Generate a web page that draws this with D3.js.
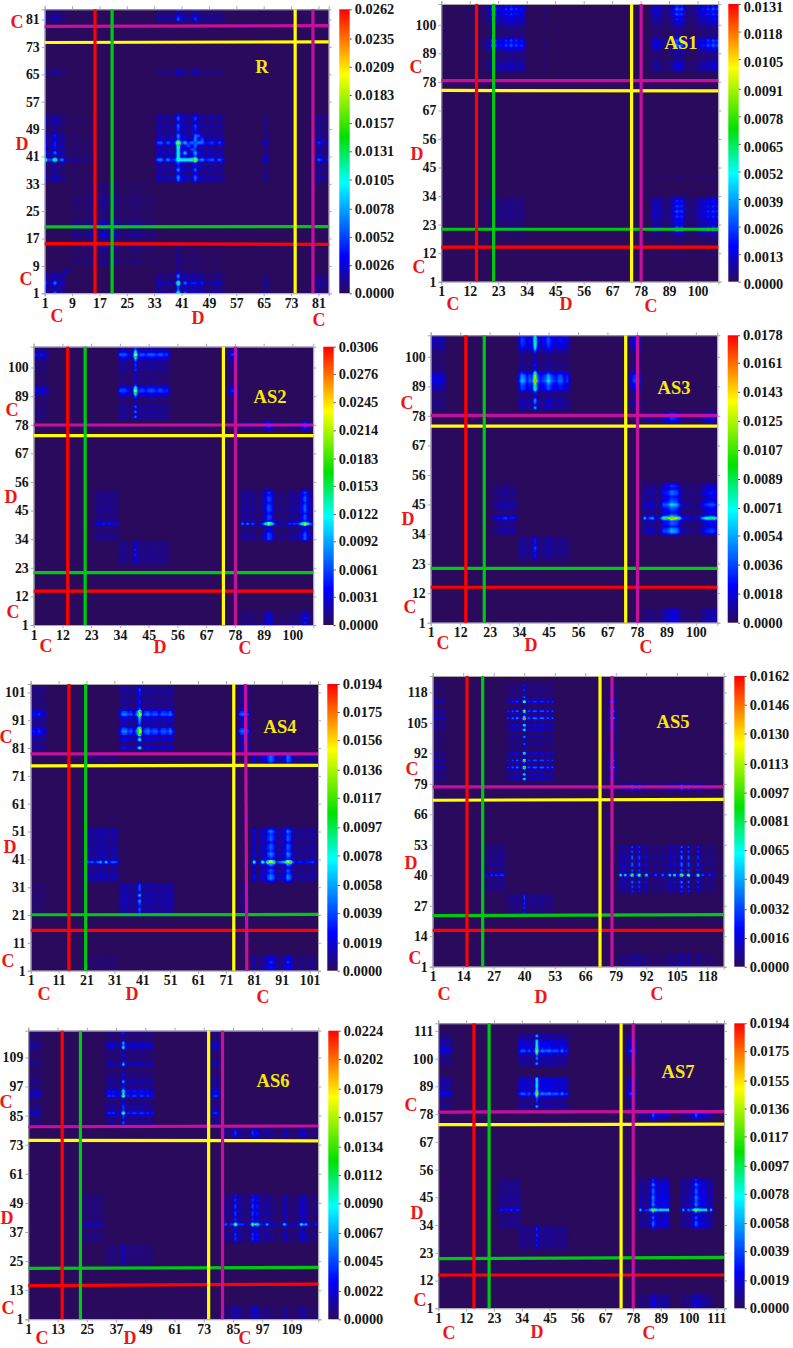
<!DOCTYPE html>
<html>
<head>
<meta charset="utf-8">
<script src="https://cdnjs.cloudflare.com/ajax/libs/d3/7.8.5/d3.min.js"></script>
<style>
body { margin: 0; background: #fff; }
svg { display: block; }
.axis text { font-family: "Liberation Serif", serif; font-weight: bold; font-size: 13.8px; fill: #151515; }
.axis path, .axis line { stroke: #a8a8a8; }
.bar-axis text { font-size: 14.4px; }
.bar-axis line { stroke: #444; }
.bar-axis path { display: none; }
.letter { font-family: "Liberation Serif", serif; font-weight: bold; font-size: 18px; fill: #f01414; text-anchor: middle; dominant-baseline: central; }
.title { font-family: "Liberation Serif", serif; font-weight: bold; font-size: 18.5px; fill: #f5e80a; text-anchor: middle; dominant-baseline: central; }
</style>
</head>
<body>
<div id="chart"></div>
<script>
// tick labels
var ticksR = [1, 9, 17, 25, 33, 41, 49, 57, 65, 73, 81];
var ticks11 = [1, 12, 23, 34, 45, 56, 67, 78, 89, 100];
var ticks11b = [1, 12, 23, 34, 45, 56, 67, 78, 89, 100, 111];
var ticks10 = [1, 11, 21, 31, 41, 51, 61, 71, 81, 91, 101];
var ticks13 = [1, 14, 27, 40, 53, 66, 79, 92, 105, 118];
var ticks12 = [1, 13, 25, 37, 49, 61, 73, 85, 97, 109];

// colour bar labels
var barR = ["0.0262", "0.0235", "0.0209", "0.0183", "0.0157", "0.0131", "0.0105", "0.0078", "0.0052", "0.0026", "0.0000"];
var bar1 = ["0.0131", "0.0118", "0.0105", "0.0091", "0.0078", "0.0065", "0.0052", "0.0039", "0.0026", "0.0013", "0.0000"];
var bar2 = ["0.0306", "0.0276", "0.0245", "0.0214", "0.0183", "0.0153", "0.0122", "0.0092", "0.0061", "0.0031", "0.0000"];
var bar3 = ["0.0178", "0.0161", "0.0143", "0.0125", "0.0107", "0.0089", "0.0071", "0.0054", "0.0036", "0.0018", "0.0000"];
var bar4 = ["0.0194", "0.0175", "0.0156", "0.0136", "0.0117", "0.0097", "0.0078", "0.0058", "0.0039", "0.0019", "0.0000"];
var bar5 = ["0.0162", "0.0146", "0.0130", "0.0113", "0.0097", "0.0081", "0.0065", "0.0049", "0.0032", "0.0016", "0.0000"];
var bar6 = ["0.0224", "0.0202", "0.0179", "0.0157", "0.0134", "0.0112", "0.0090", "0.0067", "0.0045", "0.0022", "0.0000"];
var bar7 = ["0.0194", "0.0175", "0.0155", "0.0136", "0.0117", "0.0097", "0.0078", "0.0058", "0.0039", "0.0019", "0.0000"];

// band strengths read from each map, as a share of that map's top value
// R
var rA = [.75, .3, .3, .8, .2, .4, .15];                   // residues 1-7
var rM = [.1, .1, .15, .1, .1, .08, .08, .12];             // 8-15
var rN = [.05, .3, .1, .15, .15, .25, .3, .2, .2, .55, .3, .3, .5, .3, .15, .15, .15, .2, .2, .25, .2, .15, .1, .15, .12]; // 9-33
var rD = [.3, .35, .15, .35, .2, .25, 1, .3, .45, .25, .3, .85, .25, .35, .2, .25, .3, .15, .3, .2]; // 34-53
var rL = [.2, .2, .1, .15, .15, .1, 1, .1, .45, .2, .3, .3, .2, .3, .1, .1, .15, .15, .2, .1]; // 34-53, seen from 1-7
var rF = [.25, .35];                                       // 65-66
var rT = [.5, .35, .1, .45];                               // 81-84
var rSpots = [[40, 40, .45], [40, 41, .4], [40, 42, .42], [40, 43, .4], [41, 40, .42], [42, 40, .42], [43, 40, .42], [44, 40, .5],
  [42, 42, .36], [45, 45, .2], [43, 44, .22], [44, 45, .25], [45, 46, .28], [46, 47, .22], [6, 6, .1], [7, 7, .1], [8, 8, .08]];

// AS1
var a1N = [.02, .02, .03, .03, .03, .04, .04, .1, .1, .15, .35, .9, .5, .25, .4, .3, .5, .35, .55, .35, .5, .3, .45, .3, .05]; // 10-34
var a1D = [.12];                                           // 41
var a1C = [.15, .25, .35, .2, .25, .1, .12, .15, .25, .4, .6, .45, .55, .2, .15, .08, .12, .15, .25, .25, .4, .3, .5, .35, .55, .4, .55]; // 82-108

// AS2
var a2A = [.25, .3, .15, .3, .15, .2];                     // 1-6
var a2N = [.1, .25, .3, .25, .35, .2, .35, .2, .3, .25];   // 24-33
var a2D = [.3, .3, .3, .22, .15, .22, 1, .22, .3, .3, .22, .3, .32, .3, .22, .3, .3, .22, .28, .12]; // 34-53
var a2K = [.2, .35, .35, .3];                              // 76-79
var a2C = [.35, .1, .35, .1, .3, .1, .1, .15, .3, .55, .85, .7, .3, .1, .1, .2, .1, .1, .25, .2, .25, .2, .35, .6, .95, .5, .3, .2]; // 81-108

// AS3
var a3A = [.2, .3, .2, .3, .2, .25];
var a3N = [.1, .2, .3, .25, .3, .4, .25, .3, .3, .2];
var a3D = [.2, .4, .35, .2, .3, .25, 1, .3, .2, .25, .3, .45, .3, .25, .2, .3, .3, .15, .25, .1];
var a3K = [.25, .35, .4, .3];
var a3C = [.4, .15, .3, .35, .12, .15, .25, .6, .6, .7, .95, .85, .8, .5, .2, .15, .2, .15, .1, .15, .1, .25, .4, .5, .55, .6, .55, .35];

// AS4 (D band starts at 33, N band at 21)
var a4A = [.2, .3, .25, .35, .2, .25];
var a4N = [.3, .25, .3, .2, .3, .4, .15, .45, .15, .3, .3, .25];
var a4D = [.2, .35, .35, .25, .3, .15, .35, 1, .2, .3, .35, .25, .3, .3, .2, .3, .3, .25, .35, .2];
var a4K = [.35, .4, .4, .3];
var a4C = [.55, .1, .15, .5, .25, .7, .9, .7, .2, .3, .35, .4, .9, .7, .25, .15, .2, .2, .15, .2, .2, .25, .15, .1]; // 81-104

// AS5 (D band starts at 33, N band at 23)
var a5A = [.15, .2, .15, .2, .15, .2];
var a5N = [.1, .25, .1, .3, .2, .3, .2, .3, .3, .1];
var a5D = [.25, .1, .3, .15, .35, .1, .15, 1, .15, .3, .1, .3, .3, .1, .3, .3, .1, .3, .1, .3];
var a5K = [.2, .35, .4, .2];
var a5C = [.55, .1, .5, .1, .25, .95, .1, .25, .85, .1, .1, .6, .1, .1, .1, .3, .1, .1, .35, .1, .1, .55, .1, .6, .1, .25, 1, .25, .1, .9, .1, .1, .1, .75, .1, .3, .1, .1, .25, .1, .2, .05]; // 81-122

// AS6 (D band starts at 33, N band at 23)
var a6A = [.15, .25, .2, .25, .2, .2];
var a6N = [.1, .25, .15, .25, .2, .25, .2, .25, .2, .1];
var a6D = [.2, .3, .25, .3, .2, .2, .2, 1, .2, .3, .2, .3, .3, .2, .3, .3, .2, .3, .2, .25];
var a6K = [.2, .3, .35, .25];
var a6C = [.1, .4, .1, .3, .3, 1, .3, .3, .3, .2, .15, .2, 1, .5, .8, .3, .25, .2, .5, .2, .15, .25, .1, .1, .1, .55, .3, .1, .15, .25, .1, .15, .65, .35, .5, .15, .1, .1, .3]; // 81-119

// AS7 (D band starts at 33)
var a7A = [.2, .3, .25, .3, .2, .25];
var a7N = [.1, .15, .3, .2, .3, .2, .35, .2, .3, .3];
var a7D = [.2, .3, .3, .2, .3, .15, .25, 1, .2, .35, .3, .3, .35, .25, .3, .3, .2, .35, .2, .25];
var a7K = [.2, .35, .4, .3];
var a7C = [.45, .08, .25, .25, .4, 1, .55, .4, .5, .45, .45, .5, .03, .01, .01, .01, .08, .4, .12, .35, .25, .45, .95, .6, .5, .45, .5, .12, .45, .03];

// coloured marker lines, in residue numbers: [start, end]
var linesR = { red: [[15.7, 15.7], [15.5, 15.3]], green: [[20.7, 20.7], [20.4, 20.5]], yellow: [[74.2, 74.2], [74.3, 74.5]], magenta: [[79.4, 79.4], [79.0, 79.2]] };
var lines1 = { red: [[14.6, 14.6], [14.3, 14.3]], green: [[21.2, 21.2], [21.2, 21.2]], yellow: [[74.5, 74.5], [74.7, 74.5]], magenta: [[78.2, 78.2], [78.5, 78.5]] };
var lines2 = { red: [[14, 14], [14, 14]], green: [[20.7, 20.7], [21.1, 21.1]], yellow: [[73.6, 73.6], [73.8, 73.8]], magenta: [[78.2, 78.2], [77.9, 77.9]] };
var lines3 = { red: [[14.1, 14.1], [14.2, 14.2]], green: [[21, 21], [21.2, 21.2]], yellow: [[73.8, 73.8], [74.2, 74.2]], magenta: [[78.2, 78.2], [78.2, 78.2]] };
var lines4 = { red: [[14.7, 14.7], [15.5, 15.5]], green: [[20.7, 20.7], [21.1, 21.2]], yellow: [[73.8, 73.8], [74.6, 74.8]], magenta: [[78.5, 78.0], [78.9, 78.9]] };
var lines5 = { red: [[15.6, 15.6], [16.5, 16.5]], green: [[22.3, 22.3], [22.8, 23.2]], yellow: [[72.3, 72.3], [72, 72.4]], magenta: [[77.4, 77.4], [77.7, 77.7]] };
var lines6 = { red: [[14.9, 14.9], [14.9, 15.5]], green: [[22.4, 22.4], [22.0, 22.4]], yellow: [[75, 75], [74.8, 74.6]], magenta: [[80.7, 80.7], [80.4, 80.7]] };
var lines7 = { red: [[15.1, 15.1], [14.2, 14.2]], green: [[21.1, 21.1], [20.7, 21.2]], yellow: [[73.3, 73.3], [73.8, 74]], magenta: [[78.1, 78.1], [78.8, 79]] };

var lineColors = { red: "#ff0000", green: "#00c810", yellow: "#ffff00", magenta: "#c4109c" };

// same colour map for every map and bar
var colorStops = [0, .13, .39, .55, .77, 1];
var colorRange = ["#2a0a5c", "#0000ff", "#00ffff", "#00e000", "#ffff00", "#ff0000"];
var color = d3.scaleLinear().domain(colorStops).range(colorRange).clamp(true);

// each map: box = plot edges, bands = [xBand, xStart, yBand, yStart, strength] (mirrored over the diagonal)
var panels = [
  { title: "R", titlePos: [262, 67], box: [44.7, 328.7, 9.3, 293.3], n: 84, ticks: ticksR, bar: barR, barX: 339.3, lines: linesR,
    bands: [[rD, 34, rD, 34, .95], [rA, 1, rL, 34, .85], [rM, 8, rL, 34, .6], [rN, 9, rN, 9, .6], [rA, 1, rA, 1, .5], [rD, 34, rT, 81, .55], [rA, 1, rT, 81, .35], [rF, 65, rD, 34, .45], [rF, 65, rA, 1, .35]],
    spots: rSpots,
    letters: [["C", 17, 22], ["D", 22, 144], ["C", 26, 279], ["C", 57, 316], ["D", 198, 318], ["C", 319, 320]] },
  { title: "AS1", titlePos: [681, 43], box: [441.3, 718.3, 4, 281.7], n: 108, ticks: ticks11, bar: bar1, barX: 728.3, barDy: 2.5, lines: lines1,
    bands: [[a1N, 10, a1C, 82, .8], [a1C, 82, a1C, 82, .85], [a1N, 10, a1N, 10, .25], [a1D, 41, a1C, 82, .6]],
    letters: [["C", 416, 67], ["D", 417, 154], ["C", 419, 267], ["C", 453, 304], ["D", 566, 304], ["C", 651, 306]] },
  { title: "AS2", titlePos: [270, 397], box: [33.7, 313.3, 346.7, 625], n: 108, ticks: ticks11, bar: bar2, barX: 323.3, lines: lines2,
    bands: [[a2D, 34, a2C, 81, .95], [a2A, 1, a2C, 81, .7], [a2K, 76, a2C, 81, .7], [a2N, 24, a2D, 34, .6]],
    letters: [["C", 12, 410], ["D", 11, 497], ["C", 13, 612], ["C", 46, 646], ["D", 160, 647], ["C", 245, 648]] },
  { title: "AS3", titlePos: [674, 388], box: [430.7, 717.3, 335.3, 622.7], n: 108, ticks: ticks11, bar: bar3, barX: 727.7, lines: lines3,
    bands: [[a3D, 34, a3C, 81, 1], [a3A, 1, a3C, 81, .6], [a3K, 76, a3C, 81, .7], [a3N, 24, a3D, 34, .65]],
    letters: [["C", 407, 403], ["D", 408, 519], ["C", 410, 607], ["C", 443, 643], ["D", 531, 645], ["C", 646, 647]] },
  { title: "AS4", titlePos: [280, 727], box: [30.7, 318, 684, 970.7], n: 104, ticks: ticks10, bar: bar4, barX: 327.3, lines: lines4,
    bands: [[a4D, 33, a4C, 81, .98], [a4A, 1, a4C, 81, .7], [a4K, 76, a4C, 81, .8], [a4N, 21, a4D, 33, .9], [a4A, 1, a4N, 21, .3], [a4K, 76, a4N, 21, .3]],
    letters: [["C", 6, 737], ["D", 10, 847], ["C", 8, 961], ["C", 44, 994], ["D", 132, 994], ["C", 263, 997]] },
  { title: "AS5", titlePos: [673, 722], box: [432.7, 723.7, 676, 966.7], n: 125, ticks: ticks13, bar: bar5, barX: 734.3, lines: lines5,
    bands: [[a5D, 33, a5C, 81, 1], [a5A, 1, a5C, 81, .7], [a5K, 76, a5C, 81, .8], [a5N, 23, a5D, 33, .8]],
    letters: [["C", 412, 769], ["D", 411, 863], ["C", 415, 958], ["C", 444, 994], ["D", 541, 997], ["C", 657, 994]] },
  { title: "AS6", titlePos: [273, 1081], box: [28.3, 318.3, 1030.7, 1319.3], n: 120, ticks: ticks12, bar: bar6, barX: 328.3, lines: lines6,
    bands: [[a6D, 33, a6C, 81, .8], [a6A, 1, a6C, 81, .6], [a6K, 76, a6C, 81, .7], [a6N, 23, a6D, 33, .6]],
    letters: [["C", 6, 1102], ["D", 7, 1218], ["C", 8, 1308], ["C", 42, 1338], ["D", 130, 1338], ["C", 245, 1338]] },
  { title: "AS7", titlePos: [678, 1072], box: [438.3, 724, 1023.3, 1308.3], n: 114, ticks: ticks11b, bar: bar7, barX: 734.3, lines: lines7,
    bands: [[a7D, 33, a7C, 81, .95], [a7A, 1, a7C, 81, .6], [a7K, 76, a7C, 81, .7], [a7N, 24, a7D, 33, .7]],
    letters: [["C", 411, 1105], ["D", 417, 1213], ["C", 420, 1300], ["C", 449, 1333], ["D", 537, 1332], ["C", 649, 1333]] }
];

var svg = d3.select("#chart").append("svg").attr("width", 793).attr("height", 1348);
var defs = svg.append("defs");

// one gradient shared by all colour bars
var grad = defs.append("linearGradient").attr("id", "rainbow").attr("x1", 0).attr("x2", 0).attr("y1", 1).attr("y2", 0);
colorStops.forEach(function(s, i){
  grad.append("stop").attr("offset", s).attr("stop-color", colorRange[i]);
});

// spread the bands into a full n x n grid, 1-based
function buildGrid(p){
  var n = p.n + 2, m = new Float32Array(n * n);
  function put(i, j, v){
    if (i < n && j < n){
      m[j * n + i] = Math.max(m[j * n + i], v);
      m[i * n + j] = Math.max(m[i * n + j], v);
    }
  }
  p.bands.forEach(function(b){
    b[0].forEach(function(xv, xi){
      b[2].forEach(function(yv, yi){
        put(b[1] + xi, b[3] + yi, Math.pow(xv * yv * b[4], 1.12));
      });
    });
  });
  (p.spots || []).forEach(function(s){
    m[s[1] * n + s[0]] = s[2];
    m[s[0] * n + s[1]] = s[2];
  });
  return function(i, j){ return m[j * n + i]; };
}

function smooth(t){ return t * t * (3 - 2 * t); }

// smooth shaded map, drawn pixel by pixel through the scales
function drawHeat(g, p, x, y){
  var cell = buildGrid(p);
  var w = Math.round(p.box[1] - p.box[0]), h = Math.round(p.box[3] - p.box[2]);
  var canvas = document.createElement("canvas");
  canvas.width = w; canvas.height = h;
  var ctx = canvas.getContext("2d");
  var img = ctx.createImageData(w, h);
  for (var py = 0; py < h; py++){
    var v = Math.max(0, y.invert(p.box[2] + py + .5));
    var j0 = Math.floor(v), fy = smooth(v - j0);
    for (var px = 0; px < w; px++){
      var u = Math.max(0, x.invert(p.box[0] + px + .5));
      var i0 = Math.floor(u), fx = smooth(u - i0);
      var val = (cell(i0, j0) * (1 - fx) + cell(i0 + 1, j0) * fx) * (1 - fy)
              + (cell(i0, j0 + 1) * (1 - fx) + cell(i0 + 1, j0 + 1) * fx) * fy;
      var c = d3.rgb(color(val));
      var k = (py * w + px) * 4;
      img.data[k] = c.r; img.data[k + 1] = c.g; img.data[k + 2] = c.b; img.data[k + 3] = 255;
    }
  }
  ctx.putImageData(img, 0, 0);
  g.append("image")
    .attr("x", p.box[0]).attr("y", p.box[2])
    .attr("width", p.box[1] - p.box[0]).attr("height", p.box[3] - p.box[2])
    .attr("preserveAspectRatio", "none")
    .attr("href", canvas.toDataURL());
}

panels.forEach(function(p){
  var g = svg.append("g").attr("class", "panel");
  var x = d3.scaleLinear().domain([1, p.n]).range([p.box[0], p.box[1]]);
  var y = d3.scaleLinear().domain([1, p.n]).range([p.box[3], p.box[2]]);

  drawHeat(g, p, x, y);

  // axes, labels on left and bottom only
  g.append("g").attr("class", "axis").attr("transform", "translate(0," + p.box[3] + ")")
    .call(d3.axisBottom(x).tickValues(p.ticks).tickSize(3).tickPadding(2).tickFormat(d3.format("d")));
  g.append("g").attr("class", "axis").attr("transform", "translate(" + p.box[0] + ",0)")
    .call(d3.axisLeft(y).tickValues(p.ticks).tickSize(3).tickPadding(2).tickFormat(d3.format("d")));
  g.append("g").attr("class", "axis").attr("transform", "translate(0," + p.box[2] + ")")
    .call(d3.axisTop(x).tickValues(p.ticks).tickSize(3).tickFormat(""));
  g.append("g").attr("class", "axis").attr("transform", "translate(" + p.box[1] + ",0)")
    .call(d3.axisRight(y).tickValues(p.ticks).tickSize(3).tickFormat(""));

  // marker lines
  ["magenta", "yellow", "green", "red"].forEach(function(name){
    var l = p.lines[name];
    g.append("line")
      .attr("x1", p.box[0]).attr("x2", p.box[1])
      .attr("y1", y(l[1][0])).attr("y2", y(l[1][1]))
      .attr("stroke", lineColors[name]).attr("stroke-width", 3.2);
  });
  ["green", "red", "yellow", "magenta"].forEach(function(name){
    var l = p.lines[name];
    g.append("line")
      .attr("x1", x(l[0][0])).attr("x2", x(l[0][1]))
      .attr("y1", p.box[3]).attr("y2", p.box[2])
      .attr("stroke", lineColors[name]).attr("stroke-width", 3.2);
  });

  // colour bar
  var top = +p.bar[0];
  var barScale = d3.scaleLinear().domain([0, top]).range([p.box[3], p.box[2]]);
  g.append("rect")
    .attr("x", p.barX).attr("y", p.box[2])
    .attr("width", 10.4).attr("height", p.box[3] - p.box[2])
    .attr("fill", "url(#rainbow)");
  var barAxis = g.append("g").attr("class", "axis bar-axis").attr("transform", "translate(" + (p.barX + 10.4) + ",0)")
    .call(d3.axisRight(barScale).tickValues(p.bar.map(Number)).tickSize(2).tickPadding(3).tickFormat(d3.format(".4f")));
  if (p.barDy) barAxis.selectAll("text").attr("y", p.barDy);

  g.selectAll("text.letter").data(p.letters).enter().append("text")
    .attr("class", "letter")
    .attr("x", function(d){ return d[1]; })
    .attr("y", function(d){ return d[2]; })
    .text(function(d){ return d[0]; });

  g.append("text").attr("class", "title")
    .attr("x", p.titlePos[0]).attr("y", p.titlePos[1])
    .text(p.title);
});
</script>
</body>
</html>
